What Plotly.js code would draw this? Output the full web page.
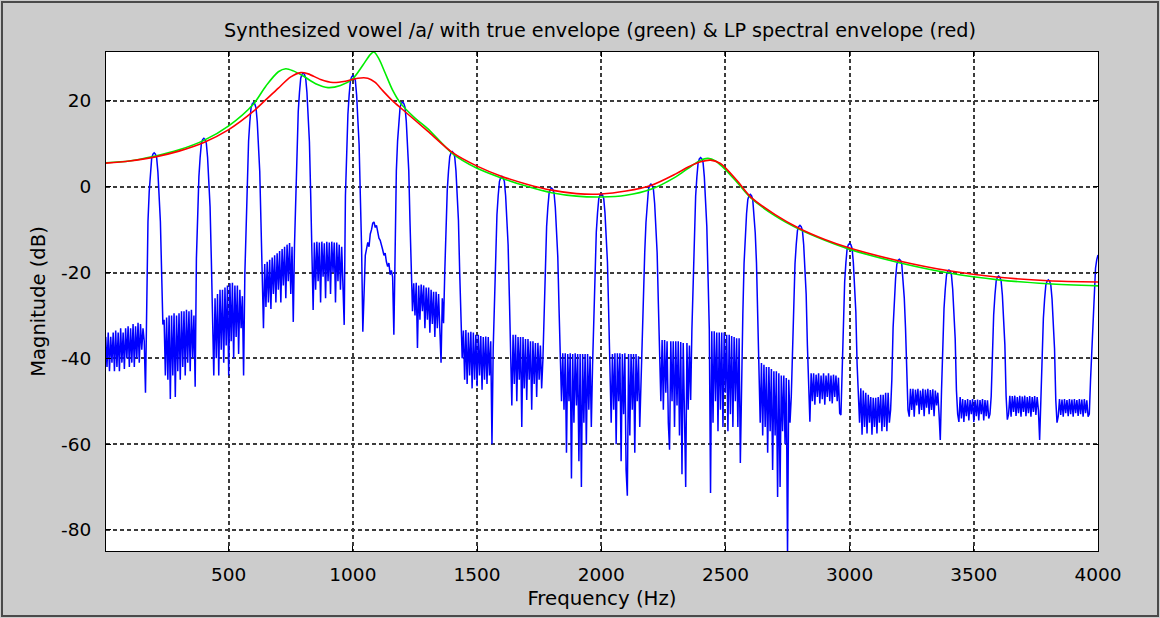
<!DOCTYPE html>
<html>
<head>
<meta charset="utf-8">
<script src="https://cdn.plot.ly/plotly-3.0.1.min.js"></script>
<style>
  html, body { margin: 0; padding: 0; background: #cccccc; }
  #wrap { position: relative; width: 1160px; height: 618px; overflow: hidden; }
  #chart { position: absolute; left: 0; top: 0; width: 1160px; height: 618px; }
  #frame { position: absolute; left: 1px; top: 1px; width: 1154px; height: 612px;
           border: 2px solid #4a4a4a; pointer-events: none; }
</style>
</head>
<body>
<div id="wrap">
  <div id="chart"></div>
  <div id="frame"></div>
</div>
<script>
// ---------------- data ----------------
const titleText = 'Synthesized vowel /a/ with true envelope (green) & LP spectral envelope (red)';
const xTitle = 'Frequency (Hz)';
const yTitle = 'Magnitude (dB)';
const xTicks = [500, 1000, 1500, 2000, 2500, 3000, 3500, 4000];
const yTicks = [-80, -60, -40, -20, 0, 20];
const yTickLabels = ['-80', '-60', '-40', '-20', '0', '20'];

// blue spectrum: FFT bins every 5 Hz from 5 Hz to 4000 Hz (one row = 200 Hz, ending at a harmonic)
const blueStartHz = 5;
const blueStepHz = 5;
const blueDb = [
  -35,-42,-34,-43,-35,-41,-34,-43,-33.5,-42,-34,-43,-33,-41,-34,-42.5,-33,-40,-32.5,-42,-33,-41,-32,-42,-32.5,-40,-31.7,-41,-32,-38,-33,-36,-48,-20.1,-8.1,-1.1,3.4,6.7,7.6,7.9,
  7.6,6.7,3.4,-1.1,-8.1,-20.1,-32.1,-31,-44,-30.5,-45,-30,-49.5,-30,-44,-29.5,-49,-30,-43,-29.5,-45,-29,-42,-29,-44,-28.7,-41,-29,-43,-28.7,-40,-30,-46.6,-16.7,-4.7,2.3,6.8,10.1,11.0,11.3,
  11.0,10.1,6.8,2.3,-4.7,-16.7,-28.7,-44,-26,-40,-25,-44,-24,-38,-24,-41,-23.5,-37,-23,-44,-22.5,-36,-22.4,-40,-23,-35,-23,-39,-24,-33,-25.5,-44,-20.4,-8.4,3.6,10.6,15.1,18.4,19.3,19.6,
  19.3,18.4,15.1,10.6,3.6,-8.4,-20.4,-33,-18,-28,-17.5,-27,-17,-28.5,-16.5,-25,-16,-27,-15.5,-24,-15,-27,-14.5,-23,-14,-26,-13.5,-22,-13.1,-25,-14,-31.5,-13.5,-1.5,10.5,17.5,22.0,25.3,26.2,26.5,
  26.2,25.3,22.0,17.5,10.5,-1.5,-13.5,-28.7,-13,-24,-12.8,-22,-13,-27,-12.8,-21,-13.2,-26,-12.8,-22,-13,-25,-12.8,-20,-13,-27,-13,-22,-13.5,-24,-14,-21,-32.2,-2.1,9.9,16.9,21.4,24.7,25.6,25.9,
  25.6,24.7,21.4,16.9,9.9,-2.1,-14.1,-33.8,-22,-16,-14.5,-13,-14,-11,-10,-8.5,-8.2,-9.5,-9,-11,-12,-12.5,-14,-14.7,-16,-15.5,-17.5,-18.6,-17.8,-20.5,-19.5,-21,-34.5,-8.3,3.7,10.7,15.2,18.5,19.4,19.7,
  19.4,18.5,15.2,10.7,3.7,-8.3,-20.3,-29,-22.5,-30,-22.4,-37.6,-23,-31,-22.8,-29,-23,-33,-23.5,-31,-23.5,-34,-24,-32,-24.5,-35,-24.5,-33,-25,-36,-41,-26,-31.8,-19.8,-7.8,-0.8,3.7,7.0,7.9,8.2,
  7.9,7.0,3.7,-0.8,-7.8,-19.8,-31.8,-40,-33.5,-45,-33.4,-46,-34,-44,-33.8,-47,-34,-45,-34.5,-46.5,-34.5,-44,-34.8,-47.3,-35,-45,-34.9,-46,-35,-44,-36,-60,-37.6,-25.6,-13.6,-6.6,-2.1,1.2,2.1,2.4,
  2.1,1.2,-2.1,-6.6,-13.6,-25.6,-37.6,-51,-34.5,-46,-34.5,-50,-35,-45,-35,-56,-35,-47,-35.5,-49.7,-35.5,-45,-36,-52,-36,-46,-36.4,-49,-36.4,-45,-37,-47,-40.3,-28.3,-16.3,-9.3,-4.8,-1.5,-0.6,-0.3,
  -0.6,-1.5,-4.8,-9.3,-16.3,-28.3,-40.3,-50,-38.8,-52,-38.8,-62,-39,-50,-38.8,-68,-39,-55,-38.8,-51,-39,-64,-39,-70,-39,-55,-39,-60,-39,-52,-39.5,-56,-41.6,-29.6,-17.6,-10.6,-6.1,-2.8,-1.9,-1.6,
  -1.9,-2.8,-6.1,-10.6,-17.6,-29.6,-41.6,-55,-39,-52,-38.8,-60,-38.8,-50,-38.8,-64,-39,-53,-38.8,-66,-72,-39,-58,-39,-52,-39,-62,-39,-50,-39.5,-56,-45,-39.4,-27.4,-15.4,-8.4,-3.9,-0.6,0.3,0.6,
  0.3,-0.6,-3.9,-8.4,-15.4,-27.4,-39.4,-50,-35.7,-52,-35.7,-48,-36,-55,-61.3,-36,-50,-36,-56,-36,-51,-36,-58,-36.2,-67,-36.4,-53,-70,-36.4,-52,-37,-49.7,-33.2,-21.2,-9.2,-2.2,2.3,5.6,6.5,6.8,
  6.5,5.6,2.3,-2.2,-9.2,-21.2,-33.2,-71.4,-33.7,-55,-33.7,-50,-34,-57,-34,-52,-34,-56,-34,-48,-34.5,-57,-34.5,-53,-34.8,-56,-35,-50,-35.3,-56,-35.3,-64.4,-41.8,-29.8,-17.8,-10.8,-6.3,-3.0,-2.1,-1.8,
  -2.1,-3.0,-6.3,-10.8,-17.8,-29.8,-41.8,-55,-41.1,-58,-41.5,-56,-42,-62,-42,-57,-42.5,-66,-43,-58,-43,-72.3,-43.5,-70,-44,-57,-44,-60,-44.6,-86,-45,-55,-49,-37,-25,-18,-13.5,-10.2,-9.3,-9.0,
  -9.3,-10.2,-13.5,-18,-25,-37,-49,-54.8,-43.5,-50,-43.5,-50.8,-43.8,-49,-43.5,-50.5,-44,-49.5,-43.5,-50.8,-44,-49,-43.5,-50,-44,-50.5,-43.8,-49,-44,-50,-44.5,-52.8,-53.2,-41.2,-29.2,-22.2,-17.7,-14.4,-13.5,-13.2,
  -13.5,-14.4,-17.7,-22.2,-29.2,-41.2,-50,-55,-47,-57.8,-47.5,-56,-48,-57.5,-48.5,-55,-49,-57.8,-49.2,-56,-49.2,-57.5,-49,-55,-48.5,-57,-48.5,-56,-48,-57,-48,-55,-52,-44.9,-32.9,-25.9,-21.4,-18.1,-17.2,-16.9,
  -17.2,-18.1,-21.4,-25.9,-32.9,-44.9,-52,-53.6,-47.1,-52,-47.1,-53.6,-47.3,-51,-47.1,-53,-47.5,-52,-47.1,-53.5,-47.3,-51.5,-47.1,-53,-47.4,-52,-47.2,-53.5,-47.5,-51,-48,-53,-59,-47.4,-35.4,-28.4,-23.9,-20.6,-19.7,-19.4,
  -19.7,-20.6,-23.9,-28.4,-35.4,-47.4,-53,-54.8,-49,-54,-49.5,-54.8,-49.7,-53.5,-49.5,-54.5,-49.7,-53,-49.5,-54.8,-49.7,-53.5,-49.6,-54.5,-49.7,-53,-49.5,-54.5,-49.7,-53.5,-49.8,-54,-53,-48.8,-36.8,-29.8,-25.3,-22.0,-21.1,-20.8,
  -21.1,-22.0,-25.3,-29.8,-36.8,-48.8,-54.3,-53,-48.7,-53.6,-48.8,-52.5,-48.7,-53.4,-49,-52.8,-48.7,-53.6,-48.9,-52.5,-48.7,-53.5,-49,-52.8,-48.8,-53.6,-49,-52.5,-48.8,-53.2,-49,-52,-59,-49.7,-37.7,-30.7,-26.2,-22.9,-22.0,-21.7,
  -22.0,-22.9,-26.2,-30.7,-37.7,-49.7,-55,-53.5,-49.5,-53.2,-49.6,-53.6,-49.5,-52.8,-49.7,-53.5,-49.5,-53,-49.6,-53.6,-49.5,-52.8,-49.7,-53.4,-49.5,-53,-49.6,-53.6,-49.5,-52.8,-49.8,-53.6,-53,-45,-38,-30,-25,-19,-17,-15.9
];

// true envelope (green)
const greenHz = [6, 100, 200, 300, 400, 500, 600, 650, 700, 730, 760, 800, 850, 900, 950, 1000, 1040, 1070, 1085, 1105, 1130, 1160, 1190, 1250, 1300, 1400, 1500, 1600, 1700, 1800, 1900, 2000, 2100, 2200, 2300, 2350, 2400, 2430, 2460, 2500, 2550, 2600, 2700, 2800, 2900, 3000, 3200, 3400, 3600, 3800, 4000];
const greenDb = [5.6, 6.0, 7.1, 8.6, 10.8, 14.2, 19.3, 23.5, 26.8, 27.5, 27.0, 25.8, 24.0, 23.1, 23.6, 25.2, 28.3, 30.8, 31.4, 29.8, 26.5, 22.5, 19.6, 16.0, 13.6, 7.8, 4.3, 2.0, 0.1, -1.4, -2.2, -2.4, -2.0, -0.6, 2.3, 4.3, 6.2, 6.6, 6.0, 4.0, 0.8, -2.5, -6.8, -10.0, -12.5, -14.6, -17.7, -20.1, -21.7, -22.6, -23.1];

// LP spectral envelope (red)
const redHz = [6, 100, 200, 300, 400, 500, 600, 650, 700, 750, 790, 820, 870, 920, 970, 1020, 1060, 1090, 1120, 1160, 1200, 1300, 1400, 1500, 1600, 1700, 1800, 1900, 2000, 2100, 2200, 2300, 2350, 2400, 2440, 2480, 2500, 2550, 2600, 2700, 2800, 2900, 3000, 3200, 3400, 3600, 3800, 4000];
const redDb = [5.5, 6.0, 6.9, 8.3, 10.3, 13.3, 17.6, 20.3, 23.0, 25.6, 26.6, 26.3, 25.0, 24.3, 24.6, 25.3, 25.3, 24.3, 22.4, 20.0, 18.0, 13.0, 8.0, 4.8, 2.4, 0.6, -0.8, -1.6, -1.7, -1.0, 0.3, 3.0, 4.6, 5.8, 6.2, 5.4, 4.4, 1.2, -2.3, -6.5, -9.8, -12.3, -14.3, -17.3, -19.6, -21.1, -21.9, -22.2];

// ---------------- drawing ----------------
const blueHz = blueDb.map((_, i) => blueStartHz + i * blueStepHz);
const FONT = 'DejaVu Sans, Verdana, Arial, sans-serif';

const traces = [
  { x: blueHz, y: blueDb, type: 'scatter', mode: 'lines',
    line: { color: '#0000ff', width: 1.5 }, hoverinfo: 'skip' },
  { x: greenHz, y: greenDb, type: 'scatter', mode: 'lines',
    line: { color: '#00ee00', width: 1.6, shape: 'spline', smoothing: 0.8 }, hoverinfo: 'skip' },
  { x: redHz, y: redDb, type: 'scatter', mode: 'lines',
    line: { color: '#ff0000', width: 1.6, shape: 'spline', smoothing: 0.8 }, hoverinfo: 'skip' }
];

const axisCommon = {
  ticks: 'inside', ticklen: 5, tickwidth: 1, tickcolor: '#000000',
  showline: true, linecolor: '#000000', linewidth: 1, mirror: 'ticks',
  showgrid: true, gridcolor: '#3c3c3c', gridwidth: 2, griddash: '4px,3px',
  zeroline: false,
  tickfont: { family: FONT, size: 18.5, color: '#000000' }
};

const layout = {
  width: 1160, height: 618,
  paper_bgcolor: '#cccccc', plot_bgcolor: '#ffffff',
  margin: { l: 106, r: 62, t: 52, b: 67, pad: 0 },
  showlegend: false,
  title: { text: titleText, xref: 'container', x: 600 / 1160, xanchor: 'center',
           yref: 'container', y: 1 - 30 / 618, yanchor: 'middle',
           font: { family: FONT, size: 19.2, color: '#000000' } },
  xaxis: Object.assign({}, axisCommon, {
    range: [6, 4000], tickvals: xTicks, ticklabelstandoff: 7,
    title: { text: xTitle, standoff: 6, font: { family: FONT, size: 19.8, color: '#000000' } }
  }),
  yaxis: Object.assign({}, axisCommon, {
    range: [-84.9, 31.4], tickvals: yTicks, ticktext: yTickLabels, ticklabelstandoff: 10,
    title: { text: yTitle, standoff: 10, font: { family: FONT, size: 19.5, color: '#000000' } }
  })
};

Plotly.newPlot('chart', traces, layout, { staticPlot: true, displayModeBar: false });
</script>
</body>
</html>
